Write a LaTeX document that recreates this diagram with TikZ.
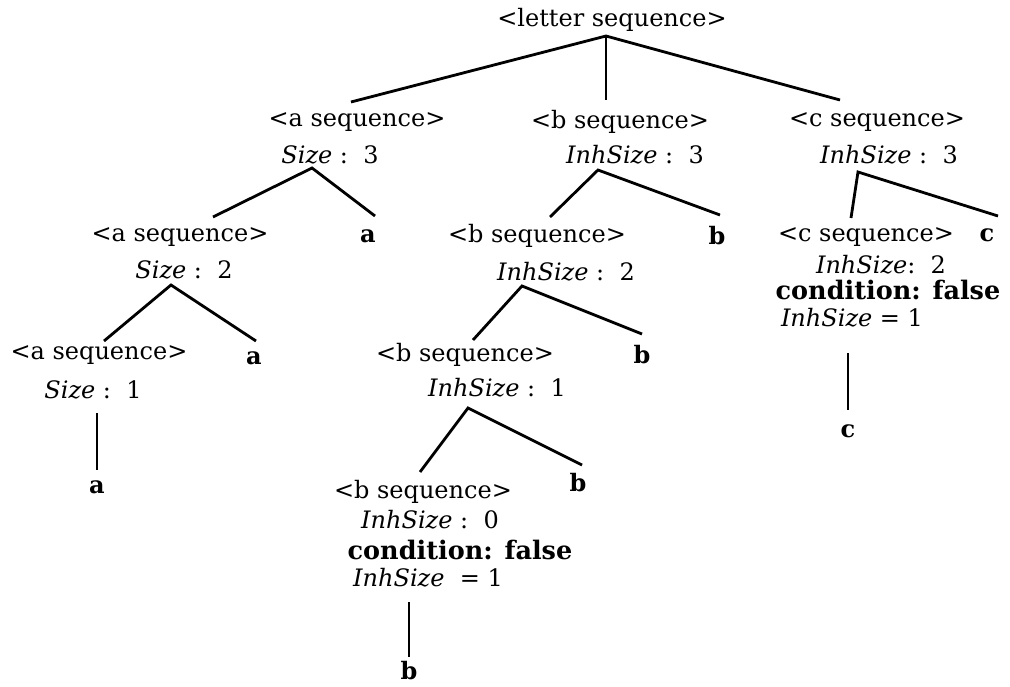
\documentclass[tikz,border=0pt]{standalone}
\usepackage{fontspec}
\setmainfont{DejaVu Serif}
\begin{document}
\begin{tikzpicture}[x=1pt,y={(0pt,-1pt)},
  lbl/.style={inner sep=0pt,anchor=center,font=\fontsize{24}{28}\selectfont},
  leaf/.style={lbl,font=\fontsize{24}{28}\selectfont\bfseries},
  cond/.style={lbl,font=\fontsize{25.5}{30}\selectfont\bfseries},
  edge/.style={line width=2.8pt,line cap=butt,black}]
\useasboundingbox (0,0) rectangle (1010,687);
% root
\node[lbl] (root) at (612,20) {<letter sequence>};
% level 1
\node[lbl] (aseqA) at (357,122) {<a sequence>};
\node[lbl] (asizeA) at (330,155) {\textit{Size} :\ \ 3};
\node[lbl] (bseqA) at (620,122) {<b sequence>};
\node[lbl] (bsizeA) at (635,155) {\textit{InhSize} :\ \ 3};
\node[lbl] (cseqA) at (877,122) {<c sequence>};
\node[lbl] (csizeA) at (889,155) {\textit{InhSize} :\ \ 3};
% level 2
\node[lbl] (aseqB) at (180,237) {<a sequence>};
\node[lbl] (asizeB) at (184,270) {\textit{Size} :\ \ 2};
\node[leaf] (aleafB) at (368,236) {a};
\node[lbl] (bseqB) at (537,236) {<b sequence>};
\node[lbl] (bsizeB) at (566,272) {\textit{InhSize} :\ \ 2};
\node[leaf] (bleafB) at (717,236) {b};
\node[lbl] (cseqB) at (866,237) {<c sequence>};
\node[lbl] (csizeB) at (881,265) {\textit{InhSize}:\ \ 2};
\node[cond] (ccondB) at (888,290) {condition: false};
\node[lbl] (cinhB) at (852,318) {\textit{InhSize} = 1};
\node[leaf] (cleafB) at (987,235) {c};
\node[leaf] (cleafC) at (848,431) {c};
% level 3
\node[lbl] (aseqC) at (99,355) {<a sequence>};
\node[lbl] (asizeC) at (93,390) {\textit{Size} :\ \ 1};
\node[leaf] (aleafC) at (254,358) {a};
\node[leaf] (aleafD) at (97,487) {a};
\node[lbl] (bseqC) at (465,355) {<b sequence>};
\node[lbl] (bsizeC) at (497,388) {\textit{InhSize} :\ \ 1};
\node[leaf] (bleafC) at (642,355) {b};
% level 4
\node[lbl] (bseqD) at (423,492) {<b sequence>};
\node[lbl] (bsizeD) at (430,520) {\textit{InhSize} :\ \ 0};
\node[cond] (bcondD) at (460,550) {condition: false};
\node[lbl] (binhD) at (428,578) {\textit{InhSize}\ \ = 1};
\node[leaf] (bleafD) at (578,483) {b};
\node[leaf] (bleafE) at (409,671) {b};
% connector points
\coordinate (r0) at (606,36);
\coordinate (r1) at (351,102);
\coordinate (r2) at (606,100);
\coordinate (r3) at (840,100);
\coordinate (pa1) at (312,168);
\coordinate (pa1l) at (213,217);
\coordinate (pa1r) at (375,216);
\coordinate (pb1) at (598,170);
\coordinate (pb1l) at (550,217);
\coordinate (pb1r) at (720,215);
\coordinate (pc1) at (858,172);
\coordinate (pc1l) at (851,218);
\coordinate (pc1r) at (998,216);
\coordinate (pa2) at (171,285);
\coordinate (pa2l) at (104,341);
\coordinate (pa2r) at (256,341);
\coordinate (pb2) at (522,286);
\coordinate (pb2l) at (473,340);
\coordinate (pb2r) at (642,334);
\coordinate (pb3) at (468,408);
\coordinate (pb3l) at (420,472);
\coordinate (pb3r) at (582,465);
\coordinate (va1) at (97,413);
\coordinate (va2) at (97,470);
\coordinate (vb1) at (409,602);
\coordinate (vb2) at (409,657);
\coordinate (vc1) at (848,353);
\coordinate (vc2) at (848,410);
% connectors
\draw[edge] (r1) -- (r0) -- (r3);
\draw[edge] (r0) -- (r2);
\draw[edge] (pa1l) -- (pa1) -- (pa1r);
\draw[edge] (pb1l) -- (pb1) -- (pb1r);
\draw[edge] (pc1l) -- (pc1) -- (pc1r);
\draw[edge] (pa2l) -- (pa2) -- (pa2r);
\draw[edge] (pb2l) -- (pb2) -- (pb2r);
\draw[edge] (pb3l) -- (pb3) -- (pb3r);
\draw[edge] (va1) -- (va2);
\draw[edge] (vb1) -- (vb2);
\draw[edge] (vc1) -- (vc2);
\end{tikzpicture}
\end{document}
